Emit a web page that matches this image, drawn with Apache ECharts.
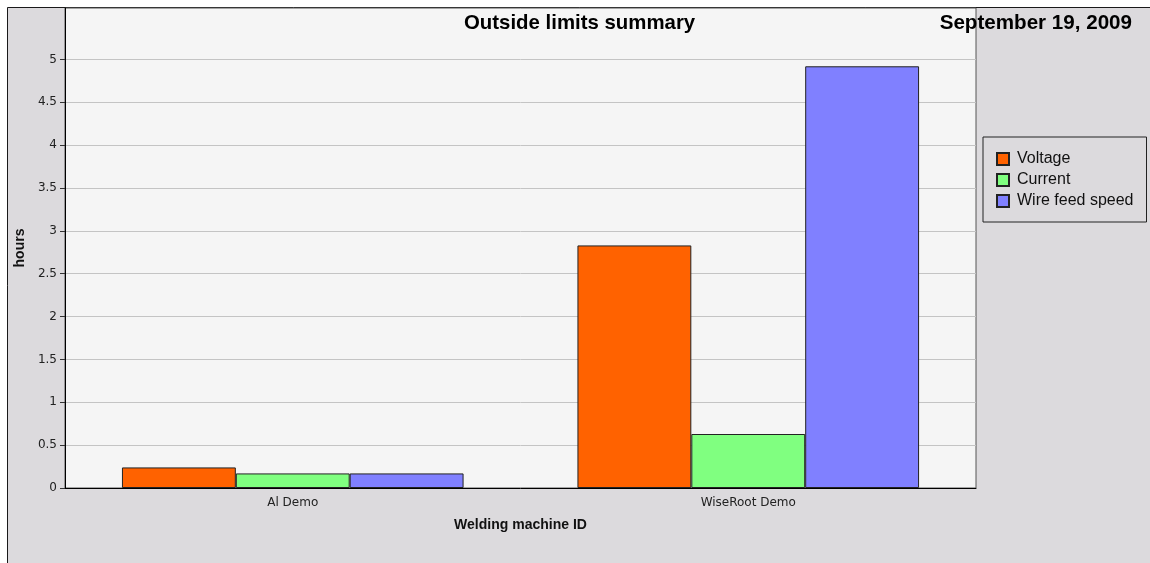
<!DOCTYPE html>
<html>
<head>
<meta charset="utf-8">
<title>Outside limits summary</title>
<script src="https://cdn.jsdelivr.net/npm/echarts@6/dist/echarts.min.js"></script>
<style>
  html, body { margin: 0; padding: 0; background: #ffffff; }
  #chart { width: 1150px; height: 563px; }
</style>
</head>
<body>
<div id="chart"></div>
<script>
// Welding machines and hours spent outside limits per measured quantity
const machines = ['Al Demo', 'WiseRoot Demo'];
const seriesNames = ['Voltage', 'Current', 'Wire feed speed'];
const voltageHours = [0.24, 2.83];
const currentHours = [0.17, 0.63];
const wireFeedHours = [0.17, 4.92];
const hourTicks = [0, 0.5, 1, 1.5, 2, 2.5, 3, 3.5, 4, 4.5, 5];

const chartTitle = 'Outside limits summary';
const reportDate = 'September 19, 2009';

const palette = ['#ff6200', '#80ff80', '#8080ff'];
const FONT = 'Liberation Sans, Arial, sans-serif';
const TICK_FONT = 'DejaVu Sans, sans-serif';

const chart = echarts.init(document.getElementById('chart'), null, { renderer: 'canvas' });

const valuesBySeries = [voltageHours, currentHours, wireFeedHours];

chart.setOption({
  animation: false,
  backgroundColor: '#ffffff',
  textStyle: { fontFamily: FONT },
  graphic: [{
    type: 'rect',
    z: -10,
    shape: { x: 7.5, y: 7.5, width: 1160, height: 570 },
    style: { fill: '#dcdadd', stroke: '#1a1a1a', lineWidth: 1 }
  }],
  title: [
    {
      text: chartTitle,
      left: 464,
      top: 13,
      padding: 0,
      textStyle: { fontFamily: FONT, fontSize: 20.4, fontWeight: 'bold', color: '#000' }
    },
    {
      text: reportDate,
      right: 18,
      top: 13,
      padding: 0,
      textStyle: { fontFamily: FONT, fontSize: 20.6, fontWeight: 'bold', color: '#000' }
    }
  ],
  legend: {
    orient: 'vertical',
    left: 983,
    top: 137,
    padding: [14, 13, 13, 13],
    itemWidth: 12,
    itemHeight: 12,
    itemGap: 5,
    icon: 'rect',
    backgroundColor: '#dcdadd',
    borderColor: '#222',
    borderWidth: 1,
    borderRadius: 0,
    data: seriesNames,
    textStyle: { fontFamily: FONT, fontSize: 16, lineHeight: 16, color: '#111', padding: [0, 0, 0, 3] }
  },
  grid: {
    left: 65,
    right: 174,
    top: 8,
    bottom: 75,
    show: true,
    backgroundColor: '#f5f5f5',
    borderColor: '#555',
    borderWidth: 1,
    containLabel: false
  },
  xAxis: {
    type: 'category',
    data: machines,
    name: 'Welding machine ID',
    nameLocation: 'middle',
    nameGap: 30,
    nameTextStyle: { fontFamily: FONT, fontSize: 14, fontWeight: 'bold', color: '#111' },
    axisLine: { lineStyle: { color: '#000', width: 1 } },
    axisTick: { alignWithLabel: true, length: 4, lineStyle: { color: '#333' } },
    axisLabel: { fontFamily: TICK_FONT, fontSize: 12, color: '#222', margin: 9 },
    splitLine: { show: false }
  },
  yAxis: {
    type: 'value',
    min: 0,
    max: 5.6,
    interval: 0.5,
    name: 'hours',
    nameLocation: 'middle',
    nameGap: 31,
    nameTextStyle: { fontFamily: FONT, fontSize: 14, fontWeight: 'bold', color: '#111' },
    axisLine: { show: true, lineStyle: { color: '#000', width: 1 } },
    axisTick: { show: true, length: 5, customValues: hourTicks, lineStyle: { color: '#333' } },
    axisLabel: { fontFamily: TICK_FONT, fontSize: 12, color: '#222', margin: 8, customValues: hourTicks },
    splitLine: { show: true, lineStyle: { color: '#c4c4c4', width: 1 } }
  },
  series: seriesNames.map((name, i) => ({
    name: name,
    type: 'bar',
    data: valuesBySeries[i],
    barGap: '0%',
    barCategoryGap: '25%',
    itemStyle: { color: palette[i], borderColor: '#222', borderWidth: 1 }
  }))
});
</script>
</body>
</html>
